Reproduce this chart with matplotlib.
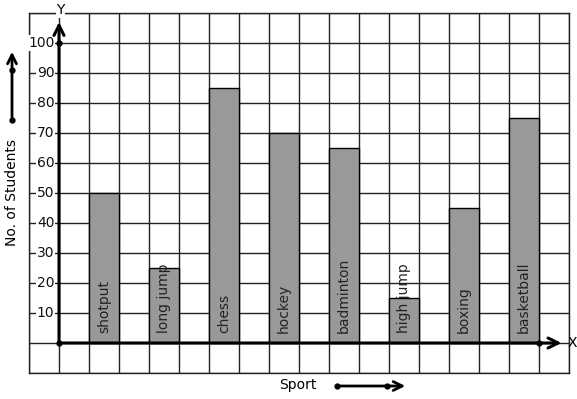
import matplotlib
matplotlib.use("Agg")
from matplotlib import pyplot as plt

sports = ["shotput", "long jump", "chess", "hockey", "badminton", "high jump", "boxing", "basketball"]
students = [50, 25, 85, 70, 65, 15, 45, 75]
bar_left = [1, 3, 5, 7, 9, 11, 13, 15]
y_ticks = [10, 20, 30, 40, 50, 60, 70, 80, 90, 100]

W, H = 577, 399
fig = plt.figure(figsize=(W / 100, H / 100), dpi=100)
ax = fig.add_axes([29 / W, (H - 373) / H, 540 / W, 360 / H])
ax.set_xlim(-1, 17)
ax.set_ylim(-10, 110)

# grid
ax.set_xticks(range(-1, 18))
ax.set_yticks(range(-10, 111, 10))
ax.tick_params(length=0, labelbottom=False, labelleft=False)
ax.grid(True, color="#222222", lw=1)
ax.set_axisbelow(True)
for s in ax.spines.values():
    s.set_color("#222222")
    s.set_linewidth(1)

ax.bar([x + 0.5 for x in bar_left], students, width=1, color="#999999",
       edgecolor="black", lw=1, zorder=2)

for x, name in zip(bar_left, sports):
    ax.text(x + 0.5, 3.2, name, rotation=90, ha="center", va="bottom",
            fontsize=10, color="#222222", zorder=4)

for v in y_ticks:
    ax.text(-0.15, v, str(v), ha="right", va="center", fontsize=10,
            color="#111111", zorder=3,
            bbox=dict(facecolor="white", edgecolor="none", pad=0.5))

# axes with arrows
ax.annotate("", xy=(16.75, 0), xytext=(0, 0),
            arrowprops=dict(arrowstyle="->", lw=2.2, color="black",
                            shrinkA=0, shrinkB=0, mutation_scale=18), zorder=5)
ax.annotate("", xy=(0, 107), xytext=(0, 0),
            arrowprops=dict(arrowstyle="->", lw=2.2, color="black",
                            shrinkA=0, shrinkB=0, mutation_scale=18), zorder=5)
ax.plot([0, 0, 16], [0, 100, 0], "o", color="black", ms=3.5, zorder=6, clip_on=False)
ax.text(16.95, 0, "X", ha="left", va="center", fontsize=10, clip_on=False)
ax.text(0.05, 111, "Y", ha="center", va="center", fontsize=10, clip_on=False,
        bbox=dict(facecolor="white", edgecolor="none", pad=0.5))

# side labels with arrows
fig.text(12 / W, 1 - 193 / H, "No. of Students", rotation=90, ha="center",
         va="center", fontsize=10)
fig.add_artist(matplotlib.patches.FancyArrowPatch(
    (12 / W, 1 - 120 / H), (12 / W, 1 - 49 / H), transform=fig.transFigure,
    arrowstyle="->", lw=2, color="black", mutation_scale=16))
fig.add_artist(plt.Line2D([12 / W, 12 / W], [1 - 120 / H, 1 - 70 / H], ls="",
                          marker="o", ms=3.5, color="black"))

fig.text(298 / W, 1 - 385 / H, "Sport", ha="center", va="center", fontsize=10)
fig.add_artist(matplotlib.patches.FancyArrowPatch(
    (337 / W, 1 - 386 / H), (408 / W, 1 - 386 / H), transform=fig.transFigure,
    arrowstyle="->", lw=2, color="black", mutation_scale=16))
fig.add_artist(plt.Line2D([337 / W, 387 / W], [1 - 386 / H, 1 - 386 / H], ls="",
                          marker="o", ms=3.5, color="black"))

fig.savefig("out.png", dpi=100)
